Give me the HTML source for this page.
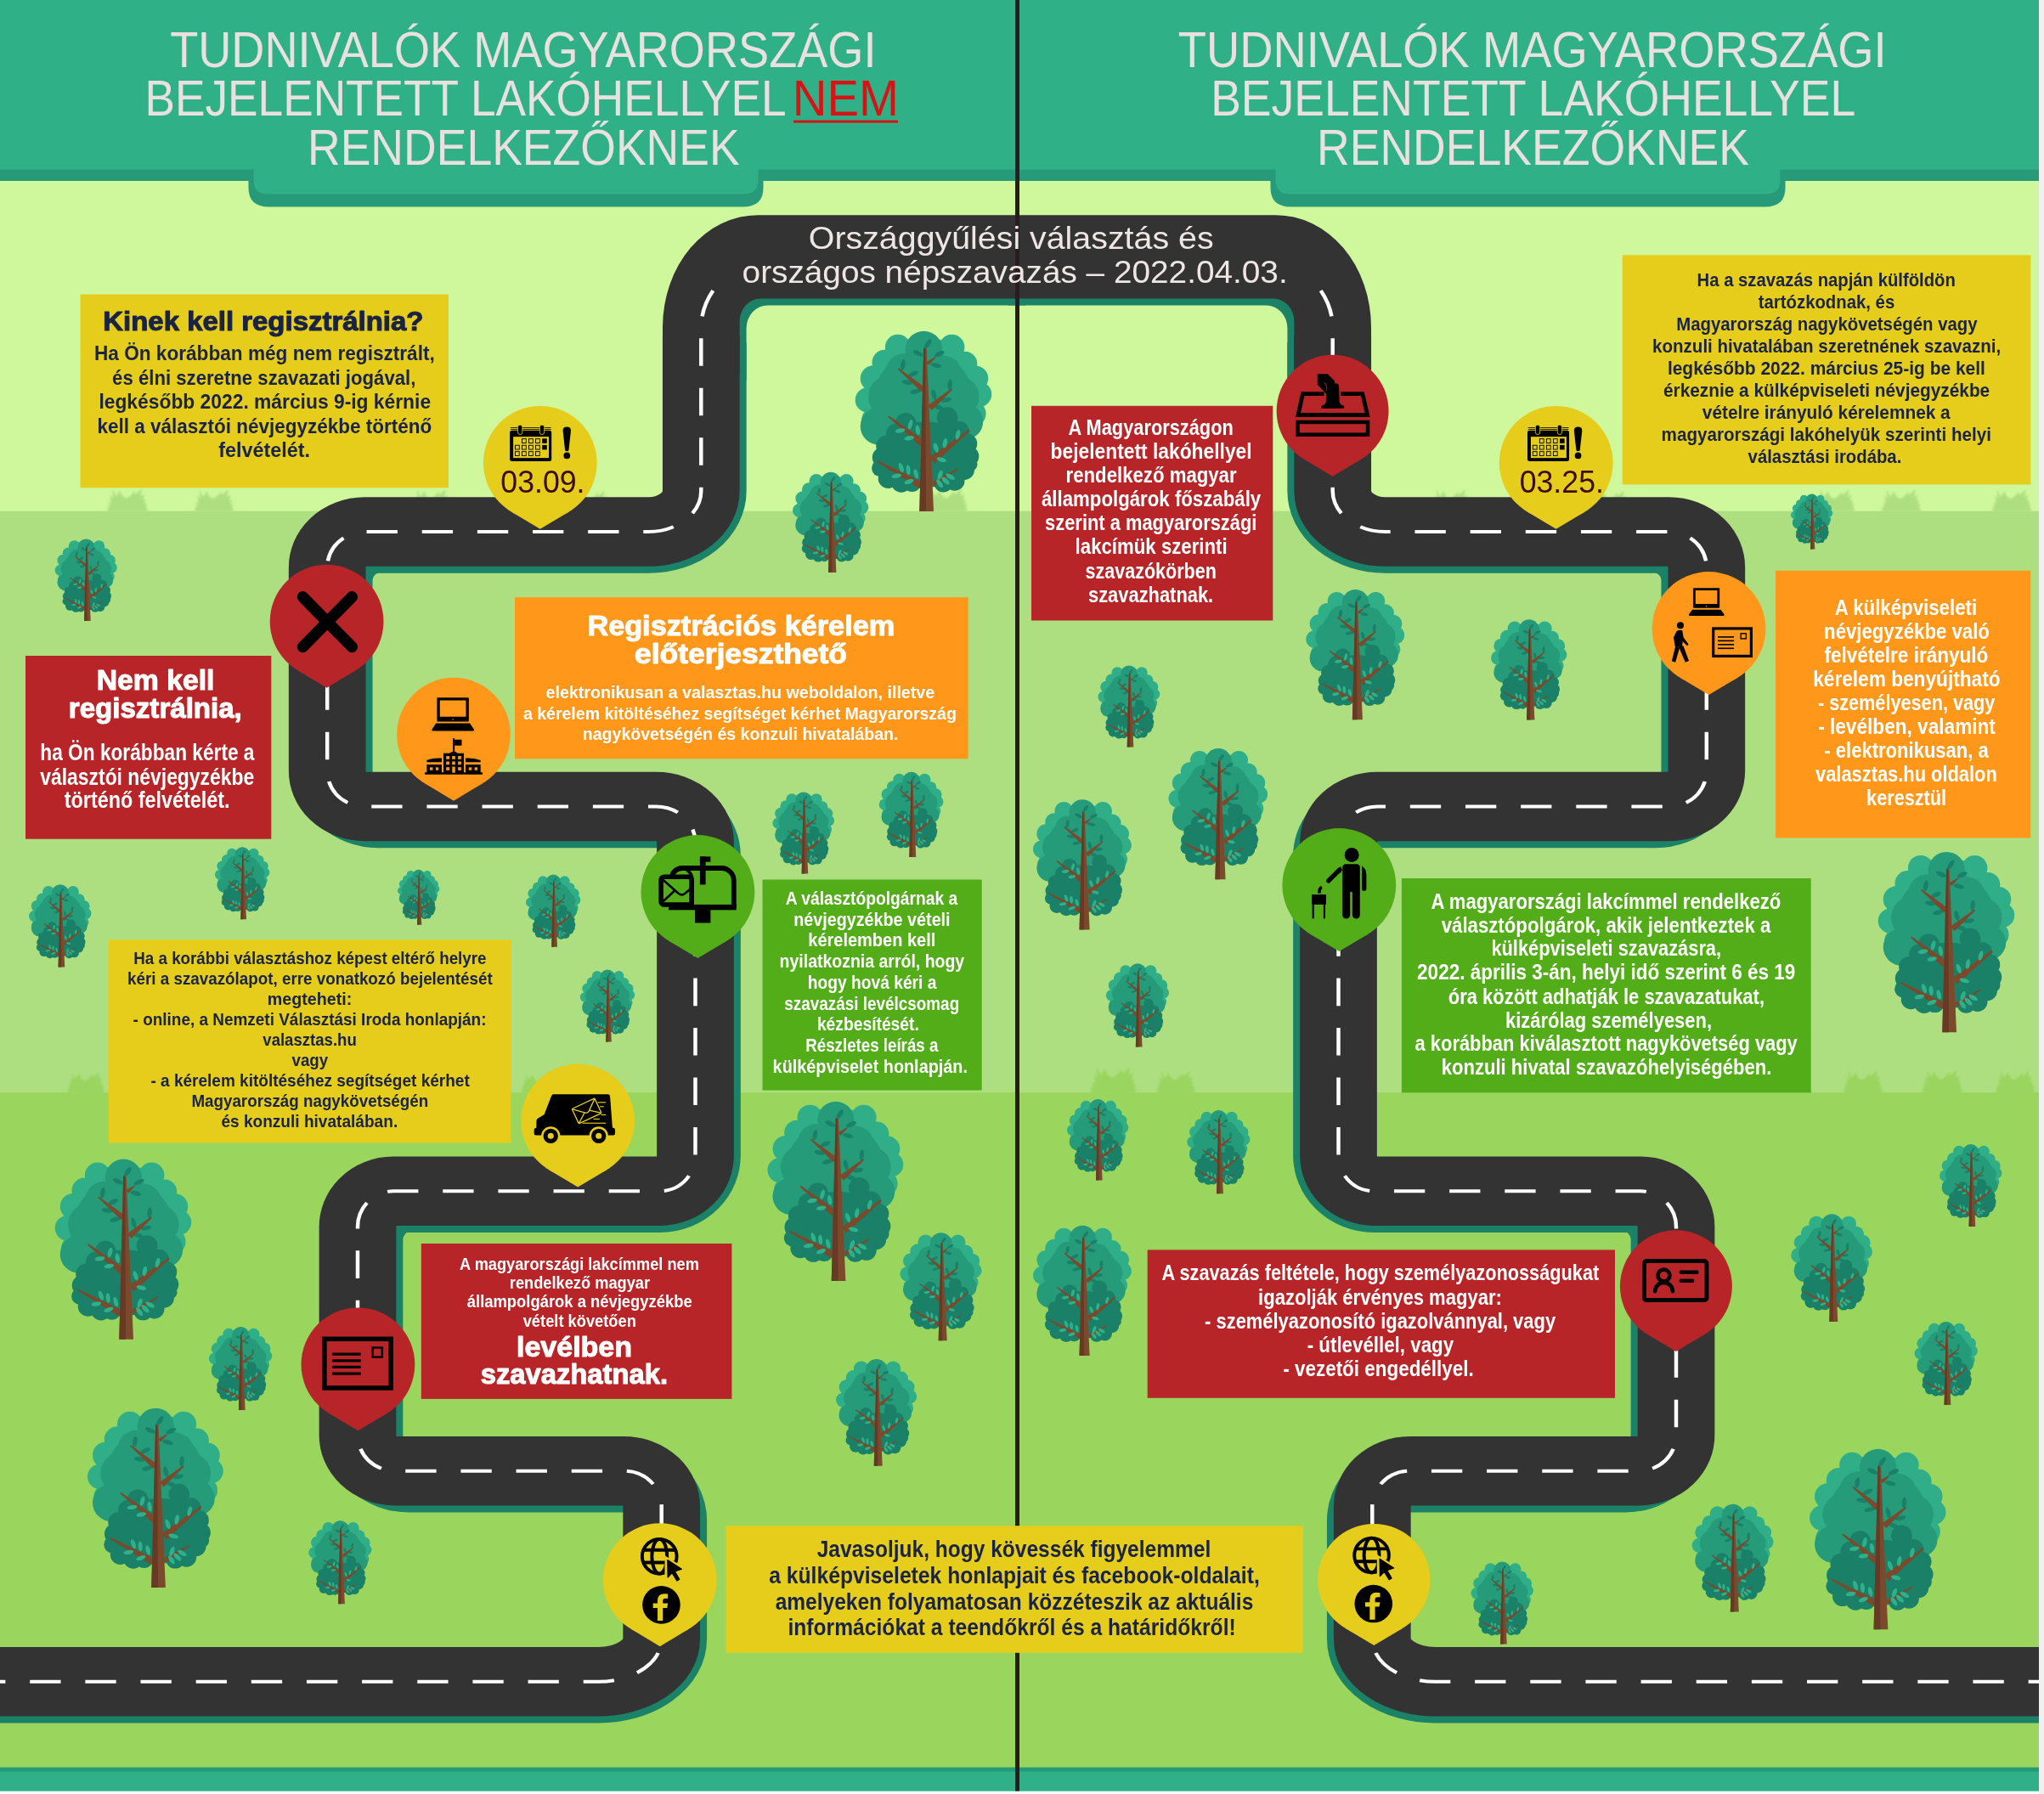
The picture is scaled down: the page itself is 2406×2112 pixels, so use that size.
<!DOCTYPE html>
<html lang="hu"><head><meta charset="utf-8"><title>Tudnivalók</title>
<style>
html,body{margin:0;padding:0;background:#f0f0f0;}
svg{display:block}
text{font-family:"Liberation Sans", sans-serif;}
</style></head><body>
<svg width="2406" height="2112" viewBox="0 0 2406 2112">
<defs>
<filter id="blur1" x="-20%" y="-40%" width="140%" height="180%"><feGaussianBlur stdDeviation="0.9"/></filter>
<g id="tree"><g transform="scale(0.133779) translate(-125,-75)"><ellipse cx="725" cy="570" rx="500" ry="440" fill="#2fae87"/><circle cx="500" cy="215" r="112" fill="#2fae87"/><circle cx="975" cy="215" r="112" fill="#2fae87"/><circle cx="385" cy="350" r="112" fill="#2fae87"/><circle cx="1090" cy="360" r="108" fill="#2fae87"/><circle cx="285" cy="490" r="115" fill="#2fae87"/><circle cx="1185" cy="490" r="110" fill="#2fae87"/><circle cx="235" cy="680" r="110" fill="#2fae87"/><circle cx="1215" cy="630" r="110" fill="#2fae87"/><circle cx="1165" cy="800" r="110" fill="#2fae87"/><circle cx="300" cy="860" r="120" fill="#2fae87"/><circle cx="730" cy="200" r="120" fill="#2fae87"/><ellipse cx="725" cy="680" rx="440" ry="430" fill="#259b79"/><circle cx="728" cy="235" r="162" fill="#259b79"/><circle cx="560" cy="440" r="170" fill="#259b79"/><circle cx="900" cy="455" r="165" fill="#259b79"/><circle cx="425" cy="650" r="185" fill="#259b79"/><circle cx="1040" cy="650" r="175" fill="#259b79"/><circle cx="335" cy="910" r="165" fill="#259b79"/><circle cx="1095" cy="870" r="155" fill="#259b79"/><circle cx="560" cy="1000" r="160" fill="#259b79"/><circle cx="900" cy="1000" r="160" fill="#259b79"/><ellipse cx="745" cy="1160" rx="400" ry="290" fill="#1a8068"/><circle cx="570" cy="885" r="92" fill="#1a8068"/><circle cx="935" cy="835" r="92" fill="#1a8068"/><circle cx="485" cy="975" r="88" fill="#1a8068"/><circle cx="1040" cy="955" r="88" fill="#1a8068"/><circle cx="400" cy="1085" r="92" fill="#1a8068"/><circle cx="1110" cy="1065" r="88" fill="#1a8068"/><circle cx="365" cy="1185" r="90" fill="#1a8068"/><circle cx="1125" cy="1175" r="88" fill="#1a8068"/><circle cx="415" cy="1370" r="88" fill="#1a8068"/><circle cx="1085" cy="1295" r="88" fill="#1a8068"/><circle cx="530" cy="1405" r="88" fill="#1a8068"/><circle cx="1000" cy="1390" r="88" fill="#1a8068"/><circle cx="625" cy="1405" r="82" fill="#1a8068"/><circle cx="900" cy="1410" r="82" fill="#1a8068"/><circle cx="345" cy="1280" r="75" fill="#1a8068"/><circle cx="1140" cy="1245" r="60" fill="#1a8068"/><ellipse cx="765" cy="185" rx="48" ry="20" fill="#198069" transform="rotate(-55 765 185)"/><ellipse cx="680" cy="270" rx="48" ry="20" fill="#198069" transform="rotate(25 680 270)"/><ellipse cx="865" cy="275" rx="48" ry="20" fill="#198069" transform="rotate(-25 865 275)"/><ellipse cx="545" cy="370" rx="48" ry="20" fill="#198069" transform="rotate(-80 545 370)"/><ellipse cx="835" cy="375" rx="48" ry="20" fill="#198069" transform="rotate(15 835 375)"/><ellipse cx="635" cy="450" rx="48" ry="20" fill="#198069" transform="rotate(-25 635 450)"/><ellipse cx="585" cy="525" rx="48" ry="20" fill="#198069" transform="rotate(10 585 525)"/><ellipse cx="655" cy="605" rx="48" ry="20" fill="#198069" transform="rotate(-15 655 605)"/><ellipse cx="958" cy="545" rx="48" ry="20" fill="#198069" transform="rotate(-85 958 545)"/><ellipse cx="818" cy="635" rx="48" ry="20" fill="#198069" transform="rotate(75 818 635)"/><ellipse cx="925" cy="680" rx="48" ry="20" fill="#198069" transform="rotate(-10 925 680)"/><ellipse cx="860" cy="745" rx="48" ry="20" fill="#198069" transform="rotate(20 860 745)"/><polygon points="771,373 832,308 828,302 749,347" fill="#7b4a2c"/><polygon points="742,570 509,401 501,409 708,610" fill="#7b4a2c"/><polygon points="798,771 979,590 971,580 762,729" fill="#7b4a2c"/><polygon points="734,1036 419,817 411,827 696,1084" fill="#7b4a2c"/><polygon points="822,1237 1135,951 1125,939 778,1183" fill="#7b4a2c"/><polygon points="720,1403 323,1214 317,1226 690,1457" fill="#7b4a2c"/><polygon points="822,1439 1033,1289 1027,1281 798,1401" fill="#7b4a2c"/><polygon points="727,220 752,228 815,1660 690,1660" fill="#7b4a2c"/><polygon points="727,220 741,224 748,1660 690,1660" fill="#673a25"/><ellipse cx="610" cy="895" rx="44" ry="19" fill="#2fb08a" transform="rotate(-75 610 895)"/><ellipse cx="520" cy="950" rx="44" ry="19" fill="#2fb08a" transform="rotate(-10 520 950)"/><ellipse cx="675" cy="945" rx="44" ry="19" fill="#2fb08a" transform="rotate(80 675 945)"/><ellipse cx="600" cy="1015" rx="44" ry="19" fill="#2fb08a" transform="rotate(-10 600 1015)"/><ellipse cx="1028" cy="985" rx="44" ry="19" fill="#2fb08a" transform="rotate(-75 1028 985)"/><ellipse cx="915" cy="1060" rx="44" ry="19" fill="#2fb08a" transform="rotate(-80 915 1060)"/><ellipse cx="835" cy="1100" rx="44" ry="19" fill="#2fb08a" transform="rotate(70 835 1100)"/><ellipse cx="885" cy="1205" rx="44" ry="19" fill="#2fb08a" transform="rotate(15 885 1205)"/><ellipse cx="530" cy="1275" rx="44" ry="19" fill="#2fb08a" transform="rotate(70 530 1275)"/><ellipse cx="592" cy="1295" rx="44" ry="19" fill="#2fb08a" transform="rotate(85 592 1295)"/><ellipse cx="660" cy="1330" rx="44" ry="19" fill="#2fb08a" transform="rotate(75 660 1330)"/><ellipse cx="488" cy="1348" rx="44" ry="19" fill="#2fb08a" transform="rotate(-10 488 1348)"/><ellipse cx="598" cy="1398" rx="44" ry="19" fill="#2fb08a" transform="rotate(-20 598 1398)"/><ellipse cx="872" cy="1340" rx="44" ry="19" fill="#2fb08a" transform="rotate(-70 872 1340)"/><ellipse cx="962" cy="1355" rx="44" ry="19" fill="#2fb08a" transform="rotate(30 962 1355)"/><ellipse cx="920" cy="1390" rx="44" ry="19" fill="#2fb08a" transform="rotate(45 920 1390)"/><ellipse cx="868" cy="1415" rx="44" ry="19" fill="#2fb08a" transform="rotate(55 868 1415)"/></g></g>
<g id="pin"><circle cx="0" cy="0" r="66.9"/><path d="M -34.40 57.38 L 0 78.0 L 34.40 57.38 Z"/></g>

<g id="roadshadow">
<g transform="translate(8,8)">
 <path d="M 780.0 440.0 L 780.0 385.2 A 112 132 0 0 1 892.0 253.2 L 1199.0 253.2 L 1199.0 351.4 L 895.6 351.4 A 25 27 0 0 0 870.6 378.4 L 870.6 440.0 Z" fill="#1b8268"/>
 <g transform="scale(1.11425,1)"><path d="M -27.28 1979.70 L 625.26 1979.70 A 73.59 58.00 0 0 0 698.86 1921.70 L 698.86 1781.70 A 46.67 50.00 0 0 0 652.19 1731.70 L 424.50 1731.70 A 46.67 50.00 0 0 1 377.83 1681.70 L 377.83 1452.30 A 44.87 50.00 0 0 1 422.71 1402.30 L 689.70 1402.30 A 44.87 50.00 0 0 0 734.57 1352.30 L 734.57 999.50 A 48.46 50.00 0 0 0 686.11 949.50 L 392.37 949.50 A 46.67 50.00 0 0 1 345.70 899.50 L 345.70 676.00 A 46.67 50.00 0 0 1 392.37 626.00 L 677.85 626.00 A 62.82 56.00 0 0 0 740.68 570.00 L 740.68 395.00" fill="none" stroke="#1b8268" stroke-width="81.4"/></g>
</g>
</g>
<g id="roadhalf">
<path d="M 780.0 440.0 L 780.0 385.2 A 112 132 0 0 1 892.0 253.2 L 1199.0 253.2 L 1199.0 351.4 L 895.6 351.4 A 25 27 0 0 0 870.6 378.4 L 870.6 440.0 Z" fill="#333333"/>
<g transform="scale(1.11425,1)">
 <path d="M -27.28 1979.70 L 632.44 1979.70 A 66.41 50.00 0 0 0 698.86 1929.70 L 698.86 1773.70 A 39.49 42.00 0 0 0 659.37 1731.70 L 417.32 1731.70 A 39.49 42.00 0 0 1 377.83 1689.70 L 377.83 1444.30 A 37.69 42.00 0 0 1 415.53 1402.30 L 696.88 1402.30 A 37.69 42.00 0 0 0 734.57 1360.30 L 734.57 991.50 A 41.28 42.00 0 0 0 693.29 949.50 L 385.19 949.50 A 39.49 42.00 0 0 1 345.70 907.50 L 345.70 668.00 A 39.49 42.00 0 0 1 385.19 626.00 L 685.03 626.00 A 55.64 48.00 0 0 0 740.68 578.00 L 740.68 395.00" fill="none" stroke="#333333" stroke-width="81.4"/>
 <path d="M -27.28 1979.70 L 632.44 1979.70 A 66.41 50.00 0 0 0 698.86 1929.70 L 698.86 1773.70 A 39.49 42.00 0 0 0 659.37 1731.70 L 417.32 1731.70 A 39.49 42.00 0 0 1 377.83 1689.70 L 377.83 1444.30 A 37.69 42.00 0 0 1 415.53 1402.30 L 696.88 1402.30 A 37.69 42.00 0 0 0 734.57 1360.30 L 734.57 991.50 A 41.28 42.00 0 0 0 693.29 949.50 L 385.19 949.50 A 39.49 42.00 0 0 1 345.70 907.50 L 345.70 668.00 A 39.49 42.00 0 0 1 385.19 626.00 L 685.03 626.00 A 55.64 48.00 0 0 0 740.68 578.00 L 740.68 386.00 A 85.26 84.00 0 0 1 754.43 340.25" fill="none" stroke="#ffffff" stroke-width="4" stroke-dasharray="32.6 25.87" stroke-dashoffset="-0.4"/>
</g>
</g>
</defs>

<rect x="0" y="0" width="2400" height="2112" fill="#cff79b"/>
<rect x="0" y="601.7" width="2400" height="1600" fill="#addf80"/>
<rect x="0" y="1286.2" width="2400" height="900" fill="#9ad55e"/>
<polygon points="127.3,602.6 126.6,596.0 129.0,597.4 128.3,590.1 131.1,592.9 129.7,582.2 133.5,587.1 132.0,575.0 136.9,584.2 140.7,577.4 144.5,584.2 149.3,586.7 154.8,582.2 158.3,578.1 159.3,582.2 167.2,575.0 165.5,584.2 170.0,581.5 168.6,589.1 171.7,587.8 170.2,592.9 173.1,593.2 171.5,597.7 173.8,598.1 172.7,602.6" fill="#addf80" opacity="1.0" filter="url(#blur1)"/>
<polygon points="230.1,602.6 229.4,596.2 231.7,597.5 231.0,590.6 233.7,593.2 232.4,582.9 236.0,587.6 234.7,575.9 239.3,584.9 243.0,578.2 246.6,584.9 251.3,587.2 256.7,582.9 260.0,578.9 261.0,582.9 268.7,575.9 267.0,584.9 271.3,582.2 269.9,589.5 273.0,588.3 271.5,593.2 274.3,593.5 272.7,597.9 274.9,598.2 273.9,602.6" fill="#addf80" opacity="1.0" filter="url(#blur1)"/>
<polygon points="486.1,602.6 485.4,596.2 487.7,597.5 487.0,590.6 489.7,593.2 488.4,582.9 492.0,587.6 490.7,575.9 495.3,584.9 499.0,578.2 502.6,584.9 507.3,587.2 512.7,582.9 516.0,578.9 517.0,582.9 524.7,575.9 523.0,584.9 527.3,582.2 525.9,589.5 529.0,588.3 527.5,593.2 530.3,593.5 528.7,597.9 531.0,598.2 529.9,602.6" fill="#addf80" opacity="1.0" filter="url(#blur1)"/>
<polygon points="675.4,602.6 674.7,596.6 676.9,597.8 676.2,591.2 678.8,593.7 677.5,584.0 681.0,588.4 679.7,577.5 684.1,585.9 687.5,579.6 691.0,585.9 695.4,588.1 700.4,584.0 703.5,580.3 704.5,584.0 711.7,577.5 710.1,585.9 714.2,583.4 712.9,590.3 715.8,589.1 714.3,593.7 717.0,594.0 715.5,598.1 717.6,598.4 716.6,602.6" fill="#addf80" opacity="1.0" filter="url(#blur1)"/>
<polygon points="1092.3,602.6 1091.6,596.0 1094.0,597.4 1093.3,590.1 1096.1,592.9 1094.7,582.2 1098.5,587.1 1097.0,575.0 1101.9,584.2 1105.7,577.4 1109.5,584.2 1114.3,586.7 1119.8,582.2 1123.3,578.1 1124.3,582.2 1132.2,575.0 1130.5,584.2 1135.0,581.5 1133.6,589.1 1136.7,587.8 1135.2,592.9 1138.1,593.2 1136.5,597.7 1138.8,598.1 1137.7,602.6" fill="#addf80" opacity="1.0" filter="url(#blur1)"/>
<polygon points="1686.1,602.6 1685.4,596.2 1687.7,597.5 1687.0,590.6 1689.7,593.2 1688.4,582.9 1692.0,587.6 1690.7,575.9 1695.3,584.9 1699.0,578.2 1702.6,584.9 1707.3,587.2 1712.7,582.9 1716.0,578.9 1717.0,582.9 1724.7,575.9 1723.0,584.9 1727.3,582.2 1725.9,589.5 1729.0,588.3 1727.5,593.2 1730.3,593.5 1728.7,597.9 1731.0,598.2 1729.9,602.6" fill="#addf80" opacity="1.0" filter="url(#blur1)"/>
<polygon points="1875.4,602.6 1874.7,596.6 1876.9,597.8 1876.2,591.2 1878.8,593.7 1877.5,584.0 1881.0,588.4 1879.7,577.5 1884.1,585.9 1887.5,579.6 1891.0,585.9 1895.4,588.1 1900.4,584.0 1903.5,580.3 1904.5,584.0 1911.7,577.5 1910.1,585.9 1914.2,583.4 1912.9,590.3 1915.8,589.1 1914.3,593.7 1917.0,594.0 1915.5,598.1 1917.6,598.4 1916.6,602.6" fill="#addf80" opacity="1.0" filter="url(#blur1)"/>
<polygon points="2138.1,602.6 2137.4,596.2 2139.7,597.5 2139.0,590.6 2141.7,593.2 2140.4,582.9 2144.0,587.6 2142.7,575.9 2147.3,584.9 2151.0,578.2 2154.6,584.9 2159.3,587.2 2164.7,582.9 2168.0,578.9 2169.0,582.9 2176.7,575.9 2175.0,584.9 2179.3,582.2 2177.9,589.5 2181.0,588.3 2179.5,593.2 2182.3,593.5 2180.7,597.9 2182.9,598.2 2181.9,602.6" fill="#addf80" opacity="1.0" filter="url(#blur1)"/>
<polygon points="2216.1,602.6 2215.4,596.2 2217.7,597.5 2217.0,590.6 2219.7,593.2 2218.4,582.9 2222.0,587.6 2220.7,575.9 2225.3,584.9 2229.0,578.2 2232.6,584.9 2237.3,587.2 2242.7,582.9 2246.0,578.9 2247.0,582.9 2254.7,575.9 2253.0,584.9 2257.3,582.2 2255.9,589.5 2259.0,588.3 2257.5,593.2 2260.3,593.5 2258.7,597.9 2260.9,598.2 2259.9,602.6" fill="#addf80" opacity="1.0" filter="url(#blur1)"/>
<polygon points="2346.1,602.6 2345.4,596.2 2347.7,597.5 2347.0,590.6 2349.7,593.2 2348.4,582.9 2352.0,587.6 2350.7,575.9 2355.3,584.9 2359.0,578.2 2362.6,584.9 2367.3,587.2 2372.7,582.9 2376.0,578.9 2377.0,582.9 2384.7,575.9 2383.0,584.9 2387.3,582.2 2385.9,589.5 2389.0,588.3 2387.5,593.2 2390.3,593.5 2388.7,597.9 2390.9,598.2 2389.9,602.6" fill="#addf80" opacity="1.0" filter="url(#blur1)"/>
<polygon points="80.4,1287.0 79.7,1281.0 81.9,1282.2 81.2,1275.6 83.8,1278.1 82.5,1268.4 86.0,1272.8 84.7,1261.9 89.1,1270.3 92.5,1264.0 96.0,1270.3 100.4,1272.5 105.4,1268.4 108.5,1264.7 109.5,1268.4 116.7,1261.9 115.1,1270.3 119.2,1267.8 117.9,1274.7 120.8,1273.5 119.3,1278.1 122.0,1278.4 120.5,1282.5 122.6,1282.8 121.6,1287.0" fill="#9ad55e" opacity="1.0" filter="url(#blur1)"/>
<polygon points="614.6,1287.0 614.0,1281.3 616.1,1282.5 615.5,1276.3 617.9,1278.6 616.7,1269.6 619.9,1273.7 618.7,1263.4 622.8,1271.3 626.0,1265.4 629.3,1271.3 633.4,1273.4 638.1,1269.6 641.0,1266.0 642.0,1269.6 648.7,1263.4 647.2,1271.3 651.0,1269.0 649.8,1275.4 652.5,1274.3 651.2,1278.6 653.6,1278.9 652.3,1282.8 654.2,1283.1 653.4,1287.0" fill="#9ad55e" opacity="1.0" filter="url(#blur1)"/>
<polygon points="1284.9,1287.1 1284.1,1279.6 1286.8,1281.1 1286.0,1272.9 1289.2,1276.0 1287.6,1263.9 1291.9,1269.4 1290.3,1255.7 1295.8,1266.2 1300.1,1258.4 1304.4,1266.2 1309.9,1269.0 1316.2,1263.9 1320.1,1259.2 1321.3,1263.9 1330.3,1255.7 1328.3,1266.2 1333.4,1263.1 1331.8,1271.7 1335.4,1270.2 1333.6,1276.0 1336.9,1276.4 1335.1,1281.5 1337.7,1281.9 1336.5,1287.1" fill="#9ad55e" opacity="1.0" filter="url(#blur1)"/>
<polygon points="1362.3,1287.0 1361.7,1280.7 1363.9,1282.0 1363.3,1275.1 1365.9,1277.7 1364.6,1267.5 1368.2,1272.2 1366.9,1260.6 1371.5,1269.5 1375.1,1262.9 1378.7,1269.5 1383.3,1271.8 1388.6,1267.5 1391.9,1263.6 1392.9,1267.5 1400.5,1260.6 1398.8,1269.5 1403.1,1266.9 1401.7,1274.1 1404.7,1272.8 1403.2,1277.7 1406.0,1278.0 1404.5,1282.3 1406.7,1282.7 1405.7,1287.0" fill="#9ad55e" opacity="1.0" filter="url(#blur1)"/>
<polygon points="2171.1,1287.0 2170.4,1280.6 2172.7,1281.9 2172.0,1275.0 2174.7,1277.6 2173.4,1267.3 2177.0,1272.0 2175.7,1260.3 2180.3,1269.3 2184.0,1262.6 2187.6,1269.3 2192.3,1271.6 2197.7,1267.3 2201.0,1263.3 2202.0,1267.3 2209.7,1260.3 2208.0,1269.3 2212.3,1266.6 2210.9,1273.9 2214.0,1272.7 2212.5,1277.6 2215.3,1277.9 2213.7,1282.3 2215.9,1282.6 2214.9,1287.0" fill="#9ad55e" opacity="1.0" filter="url(#blur1)"/>
<polygon points="2263.3,1287.0 2262.6,1280.4 2265.0,1281.8 2264.3,1274.5 2267.1,1277.3 2265.7,1266.6 2269.5,1271.5 2268.0,1259.4 2272.9,1268.6 2276.7,1261.8 2280.5,1268.6 2285.3,1271.1 2290.8,1266.6 2294.3,1262.5 2295.3,1266.6 2303.2,1259.4 2301.5,1268.6 2306.0,1265.9 2304.6,1273.5 2307.7,1272.2 2306.2,1277.3 2309.1,1277.6 2307.5,1282.1 2309.8,1282.5 2308.7,1287.0" fill="#9ad55e" opacity="1.0" filter="url(#blur1)"/>
<polygon points="2350.1,1287.0 2349.4,1280.6 2351.7,1281.9 2351.0,1275.0 2353.7,1277.6 2352.4,1267.3 2356.0,1272.0 2354.7,1260.3 2359.3,1269.3 2363.0,1262.6 2366.6,1269.3 2371.3,1271.6 2376.7,1267.3 2380.0,1263.3 2381.0,1267.3 2388.7,1260.3 2387.0,1269.3 2391.3,1266.6 2389.9,1273.9 2393.0,1272.7 2391.5,1277.6 2394.3,1277.9 2392.7,1282.3 2394.9,1282.6 2393.9,1287.0" fill="#9ad55e" opacity="1.0" filter="url(#blur1)"/>
<use href="#tree" transform="translate(1006.7,390.0) scale(1.0000)"/>
<use href="#tree" transform="translate(933.0,556.0) scale(0.5566)"/>
<use href="#tree" transform="translate(64.7,634.5) scale(0.4552)"/>
<use href="#tree" transform="translate(253.0,997.3) scale(0.4009)"/>
<use href="#tree" transform="translate(34.0,1041.4) scale(0.4575)"/>
<use href="#tree" transform="translate(468.0,1023.8) scale(0.3066)"/>
<use href="#tree" transform="translate(619.0,1029.7) scale(0.4009)"/>
<use href="#tree" transform="translate(682.8,1141.5) scale(0.4009)"/>
<use href="#tree" transform="translate(909.4,932.5) scale(0.4528)"/>
<use href="#tree" transform="translate(1034.7,909.0) scale(0.4717)"/>
<use href="#tree" transform="translate(64.7,1364.8) scale(1.0000)"/>
<use href="#tree" transform="translate(246.0,1562.0) scale(0.4623)"/>
<use href="#tree" transform="translate(103.0,1657.9) scale(0.9953)"/>
<use href="#tree" transform="translate(363.2,1790.3) scale(0.4623)"/>
<use href="#tree" transform="translate(903.5,1297.0) scale(0.9953)"/>
<use href="#tree" transform="translate(1059.4,1451.3) scale(0.5991)"/>
<use href="#tree" transform="translate(984.0,1600.2) scale(0.5920)"/>
<use href="#tree" transform="translate(1537.3,694.2) scale(0.7217)"/>
<use href="#tree" transform="translate(1755.0,729.5) scale(0.5566)"/>
<use href="#tree" transform="translate(1292.5,783.6) scale(0.4528)"/>
<use href="#tree" transform="translate(1375.5,881.3) scale(0.7264)"/>
<use href="#tree" transform="translate(1216.0,941.4) scale(0.7217)"/>
<use href="#tree" transform="translate(1301.9,1134.4) scale(0.4623)"/>
<use href="#tree" transform="translate(2210.7,1003.2) scale(1.0000)"/>
<use href="#tree" transform="translate(2108.0,581.5) scale(0.3066)"/>
<use href="#tree" transform="translate(1256.0,1294.1) scale(0.4505)"/>
<use href="#tree" transform="translate(1397.2,1307.1) scale(0.4623)"/>
<use href="#tree" transform="translate(1216.0,1443.0) scale(0.7217)"/>
<use href="#tree" transform="translate(2283.0,1347.1) scale(0.4575)"/>
<use href="#tree" transform="translate(2108.2,1429.5) scale(0.5967)"/>
<use href="#tree" transform="translate(2253.6,1556.0) scale(0.4623)"/>
<use href="#tree" transform="translate(2130.0,1706.1) scale(1.0000)"/>
<use href="#tree" transform="translate(1991.7,1770.9) scale(0.5967)"/>
<use href="#tree" transform="translate(1731.5,1838.6) scale(0.4575)"/>
<use href="#roadshadow"/>
<use href="#roadshadow" transform="translate(2394,0) scale(-1,1)"/>
<use href="#roadhalf"/>
<use href="#roadhalf" transform="translate(2394,0) scale(-1,1)"/>
<rect x="0" y="195" width="2400" height="18" fill="#269a79"/>
<path d="M 292.5 205 L 292.5 221 Q 292.5 243.5 316.5 243.5 L 874.5 243.5 Q 898.5 243.5 898.5 221 L 898.5 205 Z" fill="#269a79"/>
<path d="M 1495.5 205 L 1495.5 221 Q 1495.5 243.5 1519.5 243.5 L 2077.5 243.5 Q 2101.5 243.5 2101.5 221 L 2101.5 205 Z" fill="#269a79"/>
<rect x="0" y="0" width="2400" height="199.6" fill="#2fb087"/>
<path d="M 298.5 195 L 298.5 212 Q 298.5 228.5 315.5 228.5 L 875.5 228.5 Q 892.5 228.5 892.5 212 L 892.5 195 Z" fill="#2fb087"/>
<path d="M 1501.5 195 L 1501.5 212 Q 1501.5 228.5 1518.5 228.5 L 2078.5 228.5 Q 2095.5 228.5 2095.5 212 L 2095.5 195 Z" fill="#2fb087"/>
<rect x="1195" y="0" width="5" height="2112" fill="#2b1b20"/>
<g opacity="0.9999">
<text x="200.2" y="79.0" font-size="58.6" font-weight="normal" fill="#e9e1df" textLength="831.3" lengthAdjust="spacingAndGlyphs">TUDNIVALÓK MAGYARORSZÁGI</text>
<text x="170.5" y="136.2" font-size="58.6" font-weight="normal" fill="#e9e1df" textLength="755.1" lengthAdjust="spacingAndGlyphs">BEJELENTETT LAKÓHELLYEL</text>
<text x="362.0" y="194.3" font-size="58.6" font-weight="normal" fill="#e9e1df" textLength="508.7" lengthAdjust="spacingAndGlyphs">RENDELKEZŐKNEK</text>
<text x="932.7" y="136.2" font-size="58.6" font-weight="normal" fill="#d81316" textLength="125.3" lengthAdjust="spacingAndGlyphs">NEM</text>
<rect x="934" y="141.6" width="123" height="3" fill="#d81316"/>
<text x="1386.8" y="79.0" font-size="58.6" font-weight="normal" fill="#e9e1df" textLength="833.9" lengthAdjust="spacingAndGlyphs">TUDNIVALÓK MAGYARORSZÁGI</text>
<text x="1425.2" y="136.2" font-size="58.6" font-weight="normal" fill="#e9e1df" textLength="759.0" lengthAdjust="spacingAndGlyphs">BEJELENTETT LAKÓHELLYEL</text>
<text x="1550.0" y="194.3" font-size="58.6" font-weight="normal" fill="#e9e1df" textLength="509.1" lengthAdjust="spacingAndGlyphs">RENDELKEZŐKNEK</text>
<text x="951.8" y="293.0" font-size="36.8" font-weight="normal" fill="#eee6e4" textLength="476.8" lengthAdjust="spacingAndGlyphs">Országgyűlési választás és</text>
<text x="873.6" y="333.0" font-size="36.8" font-weight="normal" fill="#eee6e4" textLength="642.1" lengthAdjust="spacingAndGlyphs">országos népszavazás – 2022.04.03.</text>
<rect x="94.5" y="346.6" width="433.5" height="227.6" fill="#e6cd1b"/>
<text x="121.3" y="389.4" font-size="31.9" font-weight="bold" fill="#1a2340" textLength="377.1" lengthAdjust="spacingAndGlyphs" stroke="#1a2340" stroke-width="1.1" stroke-linejoin="round">Kinek kell regisztrálnia?</text>
<text x="111.0" y="424.0" font-size="24.5" font-weight="bold" fill="#1a2340" textLength="400.8" lengthAdjust="spacingAndGlyphs">Ha Ön korábban még nem regisztrált,</text>
<text x="132.1" y="452.6" font-size="24.5" font-weight="bold" fill="#1a2340" textLength="357.3" lengthAdjust="spacingAndGlyphs">és élni szeretne szavazati jogával,</text>
<text x="116.4" y="481.0" font-size="24.5" font-weight="bold" fill="#1a2340" textLength="390.7" lengthAdjust="spacingAndGlyphs">legkésőbb 2022. március 9-ig kérnie</text>
<text x="114.5" y="509.7" font-size="24.5" font-weight="bold" fill="#1a2340" textLength="393.7" lengthAdjust="spacingAndGlyphs">kell a választói névjegyzékbe történő</text>
<text x="257.3" y="537.8" font-size="24.5" font-weight="bold" fill="#1a2340" textLength="107.7" lengthAdjust="spacingAndGlyphs">felvételét.</text>
<rect x="30.0" y="772.0" width="289.3" height="215.7" fill="#b72528"/>
<text x="113.7" y="812.4" font-size="32.9" font-weight="bold" fill="#ffffff" textLength="138.7" lengthAdjust="spacingAndGlyphs" stroke="#ffffff" stroke-width="1.1" stroke-linejoin="round">Nem kell</text>
<text x="80.8" y="845.3" font-size="32.9" font-weight="bold" fill="#ffffff" textLength="204.0" lengthAdjust="spacingAndGlyphs" stroke="#ffffff" stroke-width="1.1" stroke-linejoin="round">regisztrálnia,</text>
<text x="47.3" y="894.6" font-size="28.4" font-weight="bold" fill="#ffffff" textLength="252.2" lengthAdjust="spacingAndGlyphs">ha Ön korábban kérte a</text>
<text x="47.3" y="923.6" font-size="28.4" font-weight="bold" fill="#ffffff" textLength="251.9" lengthAdjust="spacingAndGlyphs">választói névjegyzékbe</text>
<text x="75.8" y="951.3" font-size="28.4" font-weight="bold" fill="#ffffff" textLength="194.7" lengthAdjust="spacingAndGlyphs">történő felvételét.</text>
<rect x="606.0" y="703.2" width="533.8" height="190.1" fill="#ff981a"/>
<text x="691.4" y="747.5" font-size="32.6" font-weight="bold" fill="#ffffff" textLength="361.8" lengthAdjust="spacingAndGlyphs" stroke="#ffffff" stroke-width="1.1" stroke-linejoin="round">Regisztrációs kérelem</text>
<text x="747.0" y="781.2" font-size="32.6" font-weight="bold" fill="#ffffff" textLength="250.0" lengthAdjust="spacingAndGlyphs" stroke="#ffffff" stroke-width="1.1" stroke-linejoin="round">előterjeszthető</text>
<text x="642.5" y="821.5" font-size="20.1" font-weight="bold" fill="#ffffff" textLength="457.7" lengthAdjust="spacingAndGlyphs">elektronikusan a valasztas.hu weboldalon, illetve</text>
<text x="615.9" y="846.7" font-size="20.1" font-weight="bold" fill="#ffffff" textLength="510.0" lengthAdjust="spacingAndGlyphs">a kérelem kitöltéséhez segítséget kérhet Magyarország</text>
<text x="685.8" y="871.4" font-size="20.1" font-weight="bold" fill="#ffffff" textLength="371.6" lengthAdjust="spacingAndGlyphs">nagykövetségén és konzuli hivatalában.</text>
<rect x="897.5" y="1035.5" width="258.2" height="248.1" fill="#52ad19"/>
<text x="924.7" y="1065.3" font-size="22.5" font-weight="bold" fill="#ffffff" textLength="202.5" lengthAdjust="spacingAndGlyphs">A választópolgárnak a</text>
<text x="934.2" y="1089.7" font-size="22.5" font-weight="bold" fill="#ffffff" textLength="184.4" lengthAdjust="spacingAndGlyphs">névjegyzékbe vételi</text>
<text x="951.3" y="1114.1" font-size="22.5" font-weight="bold" fill="#ffffff" textLength="150.0" lengthAdjust="spacingAndGlyphs">kérelemben kell</text>
<text x="917.6" y="1139.1" font-size="22.5" font-weight="bold" fill="#ffffff" textLength="217.6" lengthAdjust="spacingAndGlyphs">nyilatkoznia arról, hogy</text>
<text x="950.7" y="1164.2" font-size="22.5" font-weight="bold" fill="#ffffff" textLength="151.8" lengthAdjust="spacingAndGlyphs">hogy hová kéri a</text>
<text x="923.2" y="1188.8" font-size="22.5" font-weight="bold" fill="#ffffff" textLength="206.0" lengthAdjust="spacingAndGlyphs">szavazási levélcsomag</text>
<text x="961.9" y="1213.2" font-size="22.5" font-weight="bold" fill="#ffffff" textLength="119.9" lengthAdjust="spacingAndGlyphs">kézbesítését.</text>
<text x="948.3" y="1238.4" font-size="22.5" font-weight="bold" fill="#ffffff" textLength="156.0" lengthAdjust="spacingAndGlyphs">Részletes leírás a</text>
<text x="909.6" y="1262.8" font-size="22.5" font-weight="bold" fill="#ffffff" textLength="229.4" lengthAdjust="spacingAndGlyphs">külképviselet honlapján.</text>
<rect x="127.9" y="1106.3" width="473.6" height="239.2" fill="#e6cd1b"/>
<text x="157.3" y="1135.3" font-size="20.1" font-weight="bold" fill="#1a2340" textLength="415.2" lengthAdjust="spacingAndGlyphs">Ha a korábbi választáshoz képest eltérő helyre</text>
<text x="150.1" y="1159.2" font-size="20.1" font-weight="bold" fill="#1a2340" textLength="429.6" lengthAdjust="spacingAndGlyphs">kéri a szavazólapot, erre vonatkozó bejelentését</text>
<text x="314.8" y="1183.2" font-size="20.1" font-weight="bold" fill="#1a2340" textLength="99.5" lengthAdjust="spacingAndGlyphs">megteheti:</text>
<text x="156.6" y="1207.2" font-size="20.1" font-weight="bold" fill="#1a2340" textLength="415.9" lengthAdjust="spacingAndGlyphs">- online, a Nemzeti Választási Iroda honlapján:</text>
<text x="309.3" y="1231.2" font-size="20.1" font-weight="bold" fill="#1a2340" textLength="110.5" lengthAdjust="spacingAndGlyphs">valasztas.hu</text>
<text x="343.5" y="1255.1" font-size="20.1" font-weight="bold" fill="#1a2340" textLength="42.7" lengthAdjust="spacingAndGlyphs">vagy</text>
<text x="177.4" y="1279.1" font-size="20.1" font-weight="bold" fill="#1a2340" textLength="375.4" lengthAdjust="spacingAndGlyphs">- a kérelem kitöltéséhez segítséget kérhet</text>
<text x="225.4" y="1303.1" font-size="20.1" font-weight="bold" fill="#1a2340" textLength="278.8" lengthAdjust="spacingAndGlyphs">Magyarország nagykövetségén</text>
<text x="260.4" y="1327.0" font-size="20.1" font-weight="bold" fill="#1a2340" textLength="207.8" lengthAdjust="spacingAndGlyphs">és konzuli hivatalában.</text>
<rect x="495.8" y="1464.0" width="365.6" height="182.9" fill="#b72528"/>
<text x="541.1" y="1494.7" font-size="20.1" font-weight="bold" fill="#ffffff" textLength="281.8" lengthAdjust="spacingAndGlyphs">A magyarországi lakcímmel nem</text>
<text x="599.8" y="1517.0" font-size="20.1" font-weight="bold" fill="#ffffff" textLength="165.3" lengthAdjust="spacingAndGlyphs">rendelkező magyar</text>
<text x="549.8" y="1539.3" font-size="20.1" font-weight="bold" fill="#ffffff" textLength="264.9" lengthAdjust="spacingAndGlyphs">állampolgárok a névjegyzékbe</text>
<text x="615.7" y="1562.2" font-size="20.1" font-weight="bold" fill="#ffffff" textLength="133.2" lengthAdjust="spacingAndGlyphs">vételt követően</text>
<text x="608.0" y="1596.6" font-size="33.8" font-weight="bold" fill="#ffffff" textLength="136.0" lengthAdjust="spacingAndGlyphs" stroke="#ffffff" stroke-width="1.1" stroke-linejoin="round">levélben</text>
<text x="565.7" y="1628.6" font-size="33.8" font-weight="bold" fill="#ffffff" textLength="220.3" lengthAdjust="spacingAndGlyphs" stroke="#ffffff" stroke-width="1.1" stroke-linejoin="round">szavazhatnak.</text>
<rect x="854.5" y="1796.2" width="679.3" height="149.6" fill="#e6cd1b"/>
<text x="961.7" y="1832.9" font-size="27.2" font-weight="bold" fill="#1a2340" textLength="463.6" lengthAdjust="spacingAndGlyphs">Javasoljuk, hogy kövessék figyelemmel</text>
<text x="905.2" y="1863.8" font-size="27.2" font-weight="bold" fill="#1a2340" textLength="577.6" lengthAdjust="spacingAndGlyphs">a külképviseletek honlapjait és facebook-oldalait,</text>
<text x="912.7" y="1894.6" font-size="27.2" font-weight="bold" fill="#1a2340" textLength="562.6" lengthAdjust="spacingAndGlyphs">amelyeken folyamatosan közzéteszik az aktuális</text>
<text x="927.4" y="1925.4" font-size="27.2" font-weight="bold" fill="#1a2340" textLength="527.3" lengthAdjust="spacingAndGlyphs">információkat a teendőkről és a határidőkről!</text>
<rect x="1909.8" y="300.3" width="480.6" height="270.1" fill="#e6cd1b"/>
<text x="1997.6" y="337.0" font-size="22.8" font-weight="bold" fill="#1a2340" textLength="304.3" lengthAdjust="spacingAndGlyphs">Ha a szavazás napján külföldön</text>
<text x="2069.8" y="362.9" font-size="22.8" font-weight="bold" fill="#1a2340" textLength="160.4" lengthAdjust="spacingAndGlyphs">tartózkodnak, és</text>
<text x="1973.2" y="389.1" font-size="22.8" font-weight="bold" fill="#1a2340" textLength="354.4" lengthAdjust="spacingAndGlyphs">Magyarország nagykövetségén vagy</text>
<text x="1945.0" y="415.2" font-size="22.8" font-weight="bold" fill="#1a2340" textLength="410.2" lengthAdjust="spacingAndGlyphs">konzuli hivatalában szeretnének szavazni,</text>
<text x="1962.9" y="440.9" font-size="22.8" font-weight="bold" fill="#1a2340" textLength="374.0" lengthAdjust="spacingAndGlyphs">legkésőbb 2022. március 25-ig be kell</text>
<text x="1958.0" y="466.9" font-size="22.8" font-weight="bold" fill="#1a2340" textLength="384.2" lengthAdjust="spacingAndGlyphs">érkeznie a külképviseleti névjegyzékbe</text>
<text x="2003.8" y="493.0" font-size="22.8" font-weight="bold" fill="#1a2340" textLength="291.9" lengthAdjust="spacingAndGlyphs">vételre irányuló kérelemnek a</text>
<text x="1955.6" y="519.2" font-size="22.8" font-weight="bold" fill="#1a2340" textLength="388.3" lengthAdjust="spacingAndGlyphs">magyarországi lakóhelyük szerinti helyi</text>
<text x="2057.6" y="544.9" font-size="22.8" font-weight="bold" fill="#1a2340" textLength="180.7" lengthAdjust="spacingAndGlyphs">választási irodába.</text>
<rect x="1214.0" y="477.8" width="284.3" height="252.7" fill="#b72528"/>
<text x="1257.6" y="512.4" font-size="25.5" font-weight="bold" fill="#ffffff" textLength="194.2" lengthAdjust="spacingAndGlyphs">A Magyarországon</text>
<text x="1236.6" y="540.4" font-size="25.5" font-weight="bold" fill="#ffffff" textLength="237.0" lengthAdjust="spacingAndGlyphs">bejelentett lakóhellyel</text>
<text x="1254.6" y="568.1" font-size="25.5" font-weight="bold" fill="#ffffff" textLength="201.0" lengthAdjust="spacingAndGlyphs">rendelkező magyar</text>
<text x="1226.0" y="596.1" font-size="25.5" font-weight="bold" fill="#ffffff" textLength="258.2" lengthAdjust="spacingAndGlyphs">állampolgárok főszabály</text>
<text x="1230.1" y="624.3" font-size="25.5" font-weight="bold" fill="#ffffff" textLength="249.3" lengthAdjust="spacingAndGlyphs">szerint a magyarországi</text>
<text x="1265.6" y="652.4" font-size="25.5" font-weight="bold" fill="#ffffff" textLength="179.1" lengthAdjust="spacingAndGlyphs">lakcímük szerinti</text>
<text x="1277.5" y="680.7" font-size="25.5" font-weight="bold" fill="#ffffff" textLength="154.4" lengthAdjust="spacingAndGlyphs">szavazókörben</text>
<text x="1281.0" y="708.6" font-size="25.5" font-weight="bold" fill="#ffffff" textLength="147.2" lengthAdjust="spacingAndGlyphs">szavazhatnak.</text>
<rect x="2089.9" y="671.8" width="300.4" height="314.7" fill="#ff981a"/>
<text x="2159.8" y="724.1" font-size="25.5" font-weight="bold" fill="#ffffff" textLength="167.3" lengthAdjust="spacingAndGlyphs">A külképviseleti</text>
<text x="2147.1" y="751.9" font-size="25.5" font-weight="bold" fill="#ffffff" textLength="194.8" lengthAdjust="spacingAndGlyphs">névjegyzékbe való</text>
<text x="2147.4" y="779.8" font-size="25.5" font-weight="bold" fill="#ffffff" textLength="193.0" lengthAdjust="spacingAndGlyphs">felvételre irányuló</text>
<text x="2134.2" y="807.9" font-size="25.5" font-weight="bold" fill="#ffffff" textLength="220.4" lengthAdjust="spacingAndGlyphs">kérelem benyújtható</text>
<text x="2139.9" y="835.9" font-size="25.5" font-weight="bold" fill="#ffffff" textLength="208.5" lengthAdjust="spacingAndGlyphs">- személyesen, vagy</text>
<text x="2140.2" y="864.4" font-size="25.5" font-weight="bold" fill="#ffffff" textLength="208.7" lengthAdjust="spacingAndGlyphs">- levélben, valamint</text>
<text x="2147.4" y="892.2" font-size="25.5" font-weight="bold" fill="#ffffff" textLength="193.4" lengthAdjust="spacingAndGlyphs">- elektronikusan, a</text>
<text x="2137.0" y="920.1" font-size="25.5" font-weight="bold" fill="#ffffff" textLength="213.8" lengthAdjust="spacingAndGlyphs">valasztas.hu oldalon</text>
<text x="2197.1" y="948.2" font-size="25.5" font-weight="bold" fill="#ffffff" textLength="94.0" lengthAdjust="spacingAndGlyphs">keresztül</text>
<rect x="1649.9" y="1034.0" width="481.8" height="252.4" fill="#52ad19"/>
<text x="1684.5" y="1069.5" font-size="26.2" font-weight="bold" fill="#ffffff" textLength="411.8" lengthAdjust="spacingAndGlyphs">A magyarországi lakcímmel rendelkező</text>
<text x="1696.7" y="1097.7" font-size="26.2" font-weight="bold" fill="#ffffff" textLength="387.6" lengthAdjust="spacingAndGlyphs">választópolgárok, akik jelentkeztek a</text>
<text x="1755.4" y="1125.3" font-size="26.2" font-weight="bold" fill="#ffffff" textLength="270.7" lengthAdjust="spacingAndGlyphs">külképviseleti szavazásra,</text>
<text x="1668.1" y="1153.4" font-size="26.2" font-weight="bold" fill="#ffffff" textLength="445.3" lengthAdjust="spacingAndGlyphs">2022. április 3-án, helyi idő szerint 6 és 19</text>
<text x="1704.8" y="1181.6" font-size="26.2" font-weight="bold" fill="#ffffff" textLength="372.2" lengthAdjust="spacingAndGlyphs">óra között adhatják le szavazatukat,</text>
<text x="1772.0" y="1209.7" font-size="26.2" font-weight="bold" fill="#ffffff" textLength="243.1" lengthAdjust="spacingAndGlyphs">kizárólag személyesen,</text>
<text x="1665.6" y="1237.3" font-size="26.2" font-weight="bold" fill="#ffffff" textLength="450.2" lengthAdjust="spacingAndGlyphs">a korábban kiválasztott nagykövetség vagy</text>
<text x="1696.7" y="1265.2" font-size="26.2" font-weight="bold" fill="#ffffff" textLength="388.8" lengthAdjust="spacingAndGlyphs">konzuli hivatal szavazóhelyiségében.</text>
<rect x="1350.7" y="1471.4" width="550.3" height="174.4" fill="#b72528"/>
<text x="1367.6" y="1507.4" font-size="26.4" font-weight="bold" fill="#ffffff" textLength="514.6" lengthAdjust="spacingAndGlyphs">A szavazás feltétele, hogy személyazonosságukat</text>
<text x="1481.1" y="1535.8" font-size="26.4" font-weight="bold" fill="#ffffff" textLength="286.8" lengthAdjust="spacingAndGlyphs">igazolják érvényes magyar:</text>
<text x="1418.1" y="1563.6" font-size="26.4" font-weight="bold" fill="#ffffff" textLength="413.0" lengthAdjust="spacingAndGlyphs">- személyazonosító igazolvánnyal, vagy</text>
<text x="1538.7" y="1591.9" font-size="26.4" font-weight="bold" fill="#ffffff" textLength="172.4" lengthAdjust="spacingAndGlyphs">- útlevéllel, vagy</text>
<text x="1510.3" y="1619.8" font-size="26.4" font-weight="bold" fill="#ffffff" textLength="224.4" lengthAdjust="spacingAndGlyphs">- vezetői engedéllyel.</text>
</g>
<use href="#pin" transform="translate(635.8,544.8) scale(1.0)" fill="#e6cd1b"/>
<g transform="translate(560,470) scale(0.089186)"><rect x="458" y="371" width="535" height="9" fill="#000"/><rect x="458" y="392" width="535" height="9" fill="#000"/><rect x="450" y="412" width="550" height="406" rx="26" fill="#000"/><rect x="495" y="495" width="470" height="280" fill="#e6cd1b"/><rect x="555" y="338" width="60" height="128" rx="30" fill="#000" stroke="#e6cd1b" stroke-width="9"/><rect x="845" y="338" width="60" height="128" rx="30" fill="#000" stroke="#e6cd1b" stroke-width="9"/><rect x="611" y="523" width="54" height="54" fill="none" stroke="#000" stroke-width="10"/><rect x="701" y="523" width="54" height="54" fill="none" stroke="#000" stroke-width="10"/><rect x="791" y="523" width="54" height="54" fill="none" stroke="#000" stroke-width="10"/><rect x="877" y="519" width="62" height="62" fill="#000"/><rect x="521" y="608" width="54" height="54" fill="none" stroke="#000" stroke-width="10"/><rect x="611" y="608" width="54" height="54" fill="none" stroke="#000" stroke-width="10"/><rect x="701" y="608" width="54" height="54" fill="none" stroke="#000" stroke-width="10"/><rect x="791" y="608" width="54" height="54" fill="none" stroke="#000" stroke-width="10"/><rect x="877" y="604" width="62" height="62" fill="#000"/><rect x="521" y="691" width="54" height="54" fill="none" stroke="#000" stroke-width="10"/><rect x="611" y="691" width="54" height="54" fill="none" stroke="#000" stroke-width="10"/><rect x="701" y="691" width="54" height="54" fill="none" stroke="#000" stroke-width="10"/><rect x="791" y="691" width="54" height="54" fill="none" stroke="#000" stroke-width="10"/><path d="M 1150 415 Q 1150 365 1203 365 Q 1256 365 1256 415 L 1227 675 Q 1203 700 1179 675 Z" fill="#000"/><circle cx="1203" cy="745" r="43" fill="#000"/></g>
<text x="589.3" y="579.7" font-size="36.8" fill="#3b0c14" opacity="0.9999" textLength="99.2" lengthAdjust="spacingAndGlyphs">03.09.</text>
<use href="#pin" transform="translate(1831.7,544.8) scale(1.0)" fill="#e6cd1b"/>
<g transform="translate(1757.8539576365663,470) scale(0.089186)"><rect x="458" y="371" width="535" height="9" fill="#000"/><rect x="458" y="392" width="535" height="9" fill="#000"/><rect x="450" y="412" width="550" height="406" rx="26" fill="#000"/><rect x="495" y="495" width="470" height="280" fill="#e6cd1b"/><rect x="555" y="338" width="60" height="128" rx="30" fill="#000" stroke="#e6cd1b" stroke-width="9"/><rect x="845" y="338" width="60" height="128" rx="30" fill="#000" stroke="#e6cd1b" stroke-width="9"/><rect x="611" y="523" width="54" height="54" fill="none" stroke="#000" stroke-width="10"/><rect x="701" y="523" width="54" height="54" fill="none" stroke="#000" stroke-width="10"/><rect x="791" y="523" width="54" height="54" fill="none" stroke="#000" stroke-width="10"/><rect x="877" y="519" width="62" height="62" fill="#000"/><rect x="521" y="608" width="54" height="54" fill="none" stroke="#000" stroke-width="10"/><rect x="611" y="608" width="54" height="54" fill="none" stroke="#000" stroke-width="10"/><rect x="701" y="608" width="54" height="54" fill="none" stroke="#000" stroke-width="10"/><rect x="791" y="608" width="54" height="54" fill="none" stroke="#000" stroke-width="10"/><rect x="877" y="604" width="62" height="62" fill="#000"/><rect x="521" y="691" width="54" height="54" fill="none" stroke="#000" stroke-width="10"/><rect x="611" y="691" width="54" height="54" fill="none" stroke="#000" stroke-width="10"/><rect x="701" y="691" width="54" height="54" fill="none" stroke="#000" stroke-width="10"/><rect x="791" y="691" width="54" height="54" fill="none" stroke="#000" stroke-width="10"/></g>
<g transform="translate(1755,470) scale(0.089186)"><path d="M 1097 415 Q 1097 365 1150 365 Q 1203 365 1203 415 L 1174 675 Q 1150 700 1126 675 Z" fill="#000"/><circle cx="1150" cy="745" r="43" fill="#000"/></g>
<text x="1788.7" y="579.7" font-size="36.8" fill="#3b0c14" opacity="0.9999" textLength="99.2" lengthAdjust="spacingAndGlyphs">03.25.</text>
<use href="#pin" transform="translate(384.6,731.7) scale(1.0)" fill="#b72528"/>
<g transform="translate(310,655) scale(0.089182)"><path d="M 520 535 L 1170 1195 M 1170 535 L 520 1195" stroke="#000" stroke-width="150" stroke-linecap="round" fill="none"/></g>
<use href="#pin" transform="translate(534.0,864.7) scale(1.0)" fill="#ff981a"/>
<g transform="translate(460,790) scale(0.089182)"><rect x="610" y="350" width="420" height="318" rx="12" fill="#000"/><rect x="647.8" y="387.8" width="344.4" height="215.5" rx="6" fill="#ff981a"/><circle cx="820.0" cy="639.65" r="8" fill="#ff981a"/><path d="M 596.0 690 L 1044.0 690 L 1100 775 Q 1100 790 1086 790 L 554 790 Q 540 790 540 775 Z" fill="#000"/><rect x="448" y="1338" width="764" height="28" rx="8" fill="#000"/><rect x="695" y="1085" width="270" height="262" fill="#000"/><path d="M 775 1088 Q 830 1030 885 1088 Z" fill="#000"/><rect x="819" y="888" width="24" height="200" fill="#000"/><rect x="843" y="905" width="93" height="80" rx="6" fill="#000"/><rect x="731" y="1122" width="42" height="42" fill="#ff981a"/><rect x="809" y="1122" width="42" height="42" fill="#ff981a"/><rect x="887" y="1122" width="42" height="42" fill="#ff981a"/><rect x="731" y="1194" width="42" height="42" fill="#ff981a"/><rect x="809" y="1194" width="42" height="42" fill="#ff981a"/><rect x="887" y="1194" width="42" height="42" fill="#ff981a"/><rect x="731" y="1269" width="42" height="42" fill="#ff981a"/><rect x="810" y="1262" width="40" height="80" fill="#ff981a"/><rect x="887" y="1269" width="42" height="42" fill="#ff981a"/><path d="M 475 1202 L 475 1178 Q 560 1142 672 1150 L 672 1202 Z" fill="#000"/><rect x="475" y="1235" width="197" height="112" fill="#000"/><path d="M 988 1150 Q 1100 1142 1185 1178 L 1185 1202 L 988 1202 Z" fill="#000"/><rect x="988" y="1235" width="197" height="112" fill="#000"/><rect x="516" y="1271" width="38" height="38" fill="#ff981a"/><rect x="593" y="1271" width="38" height="38" fill="#ff981a"/><rect x="1029" y="1271" width="38" height="38" fill="#ff981a"/><rect x="1106" y="1271" width="38" height="38" fill="#ff981a"/></g>
<use href="#pin" transform="translate(821.4,1050.0) scale(1.0)" fill="#52ad19"/>
<g transform="translate(745,975) scale(0.089182)"><path d="M 1332 1045 L 1332 692 A 165 165 0 0 0 1167 527 L 650 527 A 140 140 0 0 0 510 667 L 510 700" fill="none" stroke="#000" stroke-width="65"/><path d="M 785 1045 L 785 690 A 150 163 0 0 0 640 527" fill="none" stroke="#000" stroke-width="42"/><rect x="470" y="1008" width="895" height="72" fill="#000"/><rect x="820" y="1075" width="205" height="175" fill="#000"/><rect x="885" y="375" width="75" height="370" fill="#000"/><rect x="885" y="375" width="140" height="70" fill="#000"/><rect x="371" y="641" width="403" height="368" rx="40" fill="#52ad19" stroke="#000" stroke-width="62"/><path d="M 400 685 L 600 860 Q 645 895 690 860 L 760 800" fill="none" stroke="#000" stroke-width="30"/><path d="M 400 965 L 545 830" fill="none" stroke="#000" stroke-width="30"/></g>
<use href="#pin" transform="translate(680.2,1319.5) scale(1.0)" fill="#e6cd1b"/>
<g transform="translate(605,1245) scale(0.089182)"><path d="M 518 485 L 1245 485 Q 1266 487 1268 512 L 1300 925 L 1318 930 Q 1335 936 1335 956 L 1335 1000 Q 1335 1025 1310 1025 L 290 1025 Q 265 1025 265 1000 L 265 956 Q 265 936 284 930 L 295 927 L 297 832 Q 299 815 314 805 L 400 750 L 494 506 Q 503 487 518 485 Z" fill="#000"/><circle cx="485" cy="1035" r="125" fill="#e6cd1b"/><circle cx="485" cy="1035" r="97" fill="#000"/><circle cx="485" cy="1035" r="40" fill="#e6cd1b"/><circle cx="1118" cy="1035" r="125" fill="#e6cd1b"/><circle cx="1118" cy="1035" r="97" fill="#000"/><circle cx="1118" cy="1035" r="40" fill="#e6cd1b"/><g transform="rotate(-25 960 705)" fill="none" stroke="#e6cd1b" stroke-width="15" stroke-linejoin="round"><rect x="795" y="598" width="330" height="215" rx="12"/><path d="M 800 605 L 935 720 Q 960 738 985 720 L 1120 605"/><path d="M 800 808 L 925 712 M 1120 808 L 995 712"/></g><path d="M 1105 592 L 1212 592" stroke="#e6cd1b" stroke-width="13"/><path d="M 1135 648 L 1185 648" stroke="#e6cd1b" stroke-width="13"/><path d="M 1150 756 L 1212 756" stroke="#e6cd1b" stroke-width="13"/><path d="M 1050 812 L 1130 812" stroke="#e6cd1b" stroke-width="13"/><path d="M 905 866 L 1212 866" stroke="#e6cd1b" stroke-width="13"/></g>
<use href="#pin" transform="translate(421.4,1606.3) scale(1.0)" fill="#b72528"/>
<g transform="translate(345,1530) scale(0.089182)"><rect x="414.0" y="519.0" width="877" height="647" fill="none" stroke="#000" stroke-width="62"/><path d="M 515 720 L 893 720" stroke="#000" stroke-width="36"/><path d="M 515 805 L 893 805" stroke="#000" stroke-width="36"/><path d="M 515 890 L 893 890" stroke="#000" stroke-width="36"/><path d="M 515 978 L 893 978" stroke="#000" stroke-width="36"/><rect x="1050.5" y="633.5" width="124" height="125" fill="none" stroke="#000" stroke-width="27"/></g>
<use href="#pin" transform="translate(776.8,1860.2) scale(1.0)" fill="#e6cd1b"/>
<g transform="translate(700,1785) scale(0.089182)"><g fill="none" stroke="#000" stroke-width="44"><circle cx="855" cy="530" r="228"/><ellipse cx="855" cy="530" rx="100" ry="228"/><path d="M 650 445 L 1060 445 M 650 612 L 1060 612"/></g><path d="M 925 520 L 1200 690 L 1120 740 L 1180 860 L 1060 900 L 1000 800 L 925 860 Z" fill="#e6cd1b"/><path d="M 962 578 L 1148 698 L 1058 728 L 1118 832 L 1086 852 L 1022 748 L 966 806 Z" fill="#000" stroke="#000" stroke-width="14" stroke-linejoin="round"/><circle cx="880" cy="1170" r="250" fill="#000"/><path d="M 830 1380 L 830 1210 L 770 1210 L 770 1150 L 830 1150 L 830 1112 Q 830 1024 922 1022 L 966 1026 L 966 1084 L 932 1084 Q 900 1084 900 1116 L 900 1150 L 966 1150 L 956 1210 L 900 1210 L 900 1380 Z" fill="#e6cd1b"/></g>
<use href="#pin" transform="translate(1617.3,1860.0) scale(0.988)" fill="#e6cd1b"/>
<g transform="translate(1538.3,1783.7) scale(0.089182)"><g fill="none" stroke="#000" stroke-width="44"><circle cx="855" cy="530" r="228"/><ellipse cx="855" cy="530" rx="100" ry="228"/><path d="M 650 445 L 1060 445 M 650 612 L 1060 612"/></g><path d="M 925 520 L 1200 690 L 1120 740 L 1180 860 L 1060 900 L 1000 800 L 925 860 Z" fill="#e6cd1b"/><path d="M 962 578 L 1148 698 L 1058 728 L 1118 832 L 1086 852 L 1022 748 L 966 806 Z" fill="#000" stroke="#000" stroke-width="14" stroke-linejoin="round"/><circle cx="880" cy="1170" r="250" fill="#000"/><path d="M 830 1380 L 830 1210 L 770 1210 L 770 1150 L 830 1150 L 830 1112 Q 830 1024 922 1022 L 966 1026 L 966 1084 L 932 1084 Q 900 1084 900 1116 L 900 1150 L 966 1150 L 956 1210 L 900 1210 L 900 1380 Z" fill="#e6cd1b"/></g>
<use href="#pin" transform="translate(1568.6,483.8) scale(0.986)" fill="#b72528"/>
<g transform="translate(1495,410) scale(0.089182)"><path d="M 712 602 L 432 602 L 370 880 L 1285 880 L 1220 602 L 935 602" fill="none" stroke="#000" stroke-width="54" stroke-linejoin="miter"/><rect x="365" y="975" width="925" height="165" fill="none" stroke="#000" stroke-width="50"/><path d="M 625 340 L 760 340 L 850 428 L 856 462 L 893 468 Q 910 478 910 520 L 915 700 Q 920 742 972 760 Q 992 776 972 792 L 690 796 Q 658 780 682 760 Q 736 740 738 700 L 740 602 L 712 572 L 625 480 Z" fill="#000"/><path d="M 718 448 Q 760 500 748 560" fill="none" stroke="#b72528" stroke-width="10"/></g>
<use href="#pin" transform="translate(2011.5,740.0) scale(1.0)" fill="#ff981a"/>
<g transform="translate(1935,665) scale(0.089182)"><rect x="650" y="305" width="350" height="265" rx="12" fill="#000"/><rect x="681.5" y="336.5" width="287.0" height="178.25" rx="6" fill="#ff981a"/><circle cx="825.0" cy="546.375" r="8" fill="#ff981a"/><path d="M 639.0 592 L 1015.0 592 L 1062 657 Q 1062 672 1048 672 L 606 672 Q 592 672 592 657 Z" fill="#000"/><circle cx="482" cy="800" r="45" fill="#000"/><path d="M 432 875 Q 470 850 508 866 L 522 960 L 502 1085 L 412 1078 L 392 960 Z" fill="#000"/><polygon points="462,1060 522,1072 594,1268 548,1288 478,1125" fill="#000"/><polygon points="418,1070 474,1088 416,1288 368,1270" fill="#000"/><polygon points="508,935 590,1048 572,1068 516,1015" fill="#000"/><rect x="916.0" y="840.0" width="501" height="364" fill="none" stroke="#000" stroke-width="36"/><path d="M 975 952 L 1190 952" stroke="#000" stroke-width="18"/><path d="M 975 1002 L 1190 1002" stroke="#000" stroke-width="18"/><path d="M 975 1052 L 1190 1052" stroke="#000" stroke-width="18"/><path d="M 975 1102 L 1190 1102" stroke="#000" stroke-width="18"/><rect x="1280.0" y="906.0" width="70" height="68" fill="none" stroke="#000" stroke-width="16"/></g>
<use href="#pin" transform="translate(1576.3,1042.0) scale(1.0)" fill="#52ad19"/>
<g transform="translate(1500,965) scale(0.089182)"><circle cx="1022" cy="465" r="95" fill="#000"/><path d="M 900 630 Q 900 585 945 585 L 1085 585 Q 1130 585 1130 630 L 1130 1255 Q 1130 1305 1080 1305 Q 1034 1305 1030 1255 L 1030 962 Q 1015 940 1000 962 L 1000 1255 Q 996 1305 950 1305 Q 900 1305 900 1255 Z" fill="#000"/><path d="M 1155 608 Q 1215 650 1215 722 L 1215 910 Q 1215 940 1185 940 Q 1155 940 1155 910 Z" fill="#000"/><path d="M 862 660 L 716 806" stroke="#000" stroke-width="62" stroke-linecap="round"/><polygon points="880,612 880,700 820,700" fill="#000"/><rect x="495" y="988" width="188" height="132" fill="#000"/><rect x="500" y="1118" width="25" height="187" fill="#000"/><rect x="649" y="1118" width="24" height="187" fill="#000"/><path d="M 595 972 Q 588 905 628 890" fill="none" stroke="#000" stroke-width="40"/></g>
<use href="#pin" transform="translate(1972.9,1514.2) scale(0.986)" fill="#b72528"/>
<g transform="translate(1898,1440) scale(0.089182)"><rect x="419.5" y="499.5" width="825" height="516" rx="32" fill="none" stroke="#000" stroke-width="55"/><circle cx="678" cy="690" r="78" fill="none" stroke="#000" stroke-width="52"/><path d="M 563 900 A 116 116 0 0 1 795 900" fill="none" stroke="#000" stroke-width="52" stroke-linecap="round"/><path d="M 905 647 L 1115 647 M 905 760 L 1055 760" stroke="#000" stroke-width="50" stroke-linecap="round"/></g>
<rect x="0" y="2080.6" width="2400" height="6" fill="#249b78"/>
<rect x="0" y="2085.6" width="2400" height="24" fill="#2fb087"/>
<rect x="1195" y="2080" width="5" height="29" fill="#2b1b20"/>
<rect x="0" y="2108.7" width="2400" height="4" fill="#ffffff"/>
<rect x="2400" y="0" width="6" height="2112" fill="#f0f0f0"/>
</svg></body></html>
